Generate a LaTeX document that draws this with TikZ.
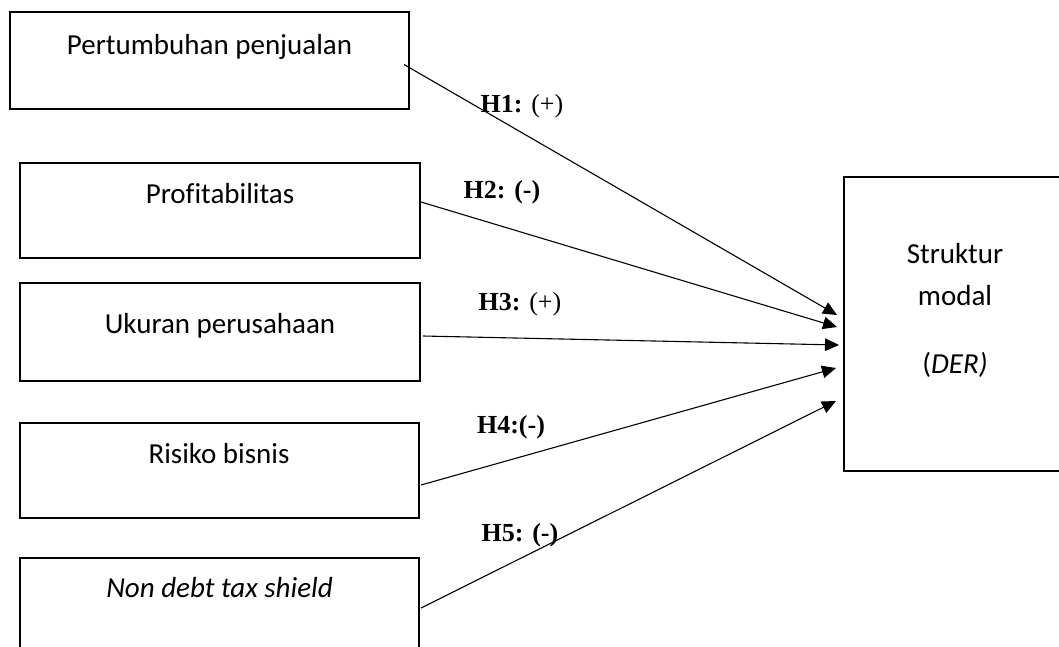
\documentclass[tikz,border=0pt]{standalone}
\usepackage{fontspec}
\setmainfont{Liberation Serif}
\newfontfamily\boxfont[Ligatures=NoCommon]{Carlito}
\usepackage{tikz}
\usetikzlibrary{arrows.meta,positioning,calc}
\tikzset{
    varbox/.style={rectangle, draw, line width=2pt, inner sep=0pt, minimum width=399pt, minimum height=97pt},
    depbox/.style={rectangle, draw, line width=2pt, inner sep=0pt, minimum width=231pt, minimum height=294pt},
    boxtext/.style={anchor=base, inner sep=0pt, font=\boxfont\fontsize{29}{35}\selectfont},
    hyp/.style={anchor=base, inner sep=0pt, font=\fontsize{26}{31}\selectfont},
    link/.style={line width=1.1pt, -{Triangle[length=14pt, width=12.5pt]}}
}

\begin{document}
\begin{tikzpicture}[x=1pt, y=-1pt]
    \clip (0,0) rectangle (1059,646);

    % Independent variables
    \node[varbox] (b1) at (209.5,60.5) {};
    \node[varbox, minimum width=400pt, minimum height=95pt] (b2) at (220,210.5) {};
    \node[varbox, minimum width=400pt, minimum height=98pt] (b3) at (220,332) {};
    \node[varbox, minimum height=95pt] (b4) at (219,470.5) {};
    \node[varbox, minimum height=98pt] (b5) at (219.5,607) {};

    \node[boxtext] (t1) at (209.5,54) {Pertumbuhan penjualan};
    \node[boxtext] (t2) at (220,203) {Profitabilitas};
    \node[boxtext] (t3) at (220,333) {Ukuran perusahaan};
    \node[boxtext] (t4) at (219,463) {Risiko bisnis};
    \node[boxtext] (t5) at (219.5,597) {\itshape Non debt tax shield};

    % Dependent variable
    \node[depbox] (der) at (959.5,324) {};
    \node[boxtext] (s1) at (955,263) {Struktur};
    \node[boxtext] (s2) at (955,305) {modal};
    \node[boxtext] (s3) at (955,373) {(\textit{DER)}};

    % Arrow ends
    \coordinate (e1) at (837,315);
    \coordinate (e2) at (837,327);
    \coordinate (e3) at (839,345);
    \coordinate (e4) at (836,368);
    \coordinate (e5) at (836,401);

    % Hypotheses
    \draw[link] ([xshift=-6pt, yshift=-4pt]b1.east) -- (e1);
    \draw[link] ([yshift=8.5pt]b2.east) -- (e2);
    \draw[link] ([xshift=2pt, yshift=-4pt]b3.east) -- (e3);
    \draw[link] ([xshift=1.5pt, yshift=-14.5pt]b4.east) -- (e4);
    \draw[link] ([xshift=1pt, yshift=-1pt]b5.east) -- (e5);

    \node[hyp] (h1) at (522,112) {\textbf{H1:} (+)};
    \node[hyp] (h2) at (502,198) {\textbf{H2: (-)}};
    \node[hyp] (h3) at (520,310) {\textbf{H3:} (+)};
    \node[hyp] (h4) at (511,433) {\textbf{H4:(-)}};
    \node[hyp] (h5) at (520,541) {\textbf{H5: (-)}};
\end{tikzpicture}
\end{document}
